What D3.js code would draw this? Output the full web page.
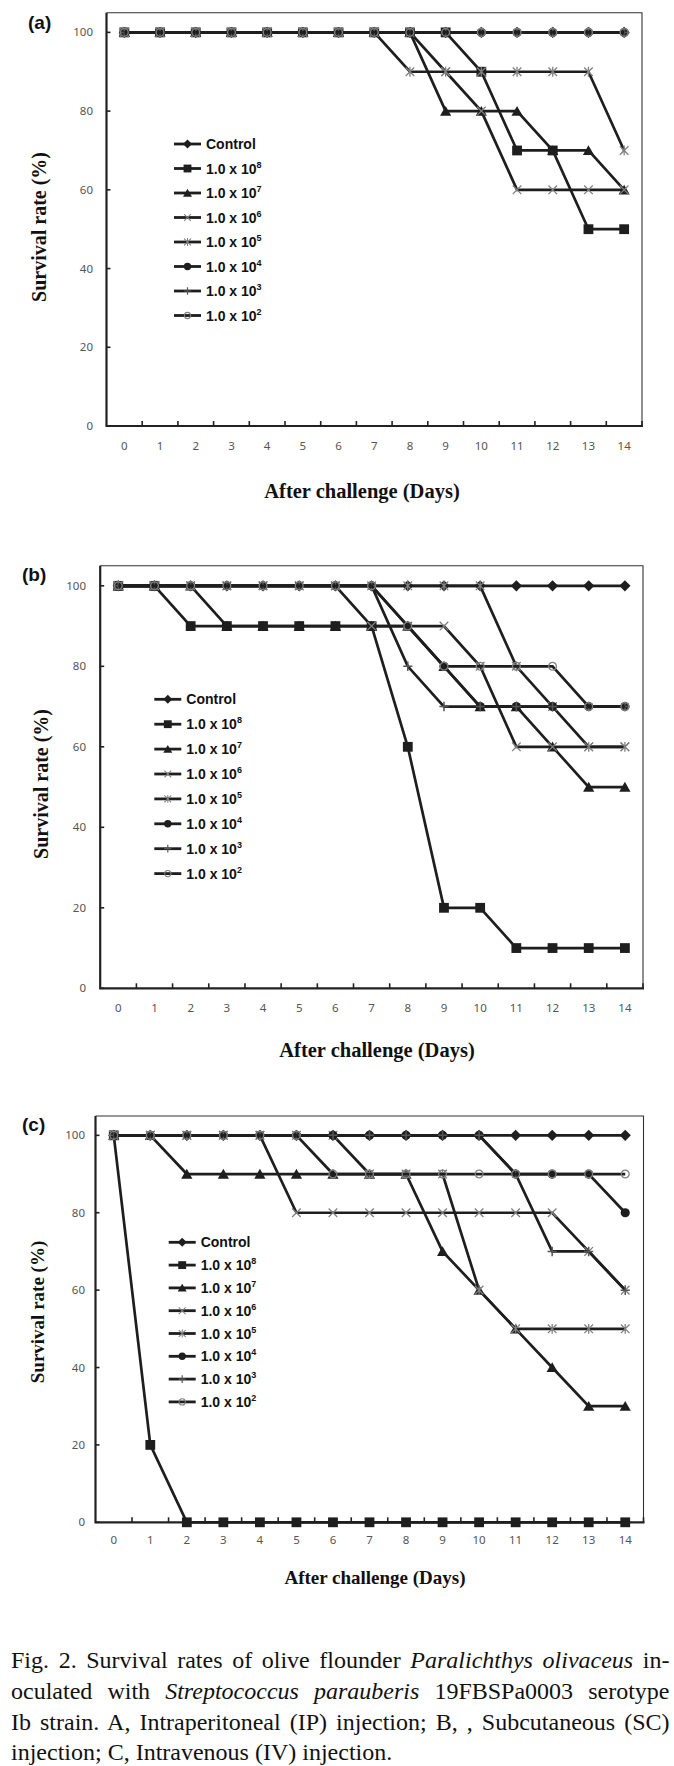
<!DOCTYPE html>
<html><head><meta charset="utf-8">
<script src="https://cdn.jsdelivr.net/npm/d3@7"></script>
<style>body{margin:0;background:#fff}</style>
</head><body><svg id="c" width="674" height="1766" xmlns="http://www.w3.org/2000/svg"></svg>
<script>
// ---------------- DATA ----------------
const days = [0,1,2,3,4,5,6,7,8,9,10,11,12,13,14];
const yTicks = [0,20,40,60,80,100];
const seriesBase = ["Control","1.0 x 10","1.0 x 10","1.0 x 10","1.0 x 10","1.0 x 10","1.0 x 10","1.0 x 10"];
const seriesExp = ["","8","7","6","5","4","3","2"];
const markerTypes = ["diamond","square","triangle","x","asterisk","circle","plus","ocircle"];

// (a) Intraperitoneal
const aControl = [100,100,100,100,100,100,100,100,100,100,100,100,100,100,100];
const a1e8 = [100,100,100,100,100,100,100,100,100,100,90,70,70,50,50];
const a1e7 = [100,100,100,100,100,100,100,100,100,80,80,80,70,70,60];
const a1e6 = [100,100,100,100,100,100,100,100,100,90,80,60,60,60,60];
const a1e5 = [100,100,100,100,100,100,100,100,90,90,90,90,90,90,70];
const a1e4 = [100,100,100,100,100,100,100,100,100,100,100,100,100,100,100];
const a1e3 = [100,100,100,100,100,100,100,100,100,100,100,100,100,100,100];
const a1e2 = [100,100,100,100,100,100,100,100,100,100,100,100,100,100,100];

// (b) Subcutaneous
const bControl = [100,100,100,100,100,100,100,100,100,100,100,100,100,100,100];
const b1e8 = [100,100,90,90,90,90,90,90,60,20,20,10,10,10,10];
const b1e7 = [100,100,100,90,90,90,90,90,90,80,70,70,60,50,50];
const b1e6 = [100,100,100,100,100,100,100,90,90,90,80,60,60,60,60];
const b1e5 = [100,100,100,100,100,100,100,100,100,100,100,80,70,60,60];
const b1e4 = [100,100,100,100,100,100,100,100,90,80,70,70,70,70,70];
const b1e3 = [100,100,100,100,100,100,100,100,80,70,70,70,70,70,70];
const b1e2 = [100,100,100,100,100,100,100,100,90,80,80,80,80,70,70];

// (c) Intravenous
const cControl = [100,100,100,100,100,100,100,100,100,100,100,100,100,100,100];
const c1e8 = [100,20,0,0,0,0,0,0,0,0,0,0,0,0,0];
const c1e7 = [100,100,90,90,90,90,90,90,90,70,60,50,40,30,30];
const c1e6 = [100,100,100,100,100,80,80,80,80,80,80,80,80,70,60];
const c1e5 = [100,100,100,100,100,100,100,90,90,90,60,50,50,50,50];
const c1e4 = [100,100,100,100,100,100,100,100,100,100,100,90,90,90,80];
const c1e3 = [100,100,100,100,100,100,100,100,100,100,100,90,70,70,60];
const c1e2 = [100,100,100,100,100,100,90,90,90,90,90,90,90,90,90];

const xTitle = "After challenge (Days)";
const yTitle = "Survival rate (%)";

// ---------------- LAYOUT ----------------
const panels = [
  {label:"(a)", lx:28, ly:29, series:[aControl,a1e8,a1e7,a1e6,a1e5,a1e4,a1e3,a1e2],
   left:106.5, right:642, top:12.7, bottom:426, ytx:39, yty:227, yfs:20,
   xtx:362, xty:498, xfs:20.5, tickY:450, legX:174, legY:144, legStep:24.5, ylab:93},
  {label:"(b)", lx:22, ly:581, series:[bControl,b1e8,b1e7,b1e6,b1e5,b1e4,b1e3,b1e2],
   left:100.2, right:643, top:565.7, bottom:988.3, ytx:41, yty:784, yfs:20,
   xtx:377, xty:1057, xfs:20.5, tickY:1012, legX:154.3, legY:699.3, legStep:24.9, ylab:86},
  {label:"(c)", lx:22, ly:1131, series:[cControl,c1e8,c1e7,c1e6,c1e5,c1e4,c1e3,c1e2],
   left:95.5, right:643.5, top:1116, bottom:1522.3, ytx:37, yty:1312, yfs:19,
   xtx:375, xty:1584, xfs:19, tickY:1544, legX:168.7, legY:1242.3, legStep:22.8, ylab:85}
];

const svg = d3.select("#c");
svg.append("rect").attr("width",674).attr("height",1766).attr("fill","#fff");

const LINE = "#1e1e1e";
const GRAY = "#808080";

function drawMarker(g, type, x, y, s) {
  s = s || 1;
  const m = g.append("g").attr("transform", `translate(${x},${y}) scale(${s})`);
  switch(type) {
    case "diamond":
      m.append("path").attr("d","M0,-5.6L5.6,0L0,5.6L-5.6,0Z").attr("fill",LINE); break;
    case "square":
      m.append("rect").attr("x",-4.9).attr("y",-4.9).attr("width",9.8).attr("height",9.8).attr("fill",LINE); break;
    case "triangle":
      m.append("path").attr("d","M0,-5.2L5.6,4.6L-5.6,4.6Z").attr("fill",LINE); break;
    case "x":
      m.append("path").attr("d","M-4.3,-4.3L4.3,4.3M-4.3,4.3L4.3,-4.3").attr("stroke",GRAY).attr("stroke-width",1.3).attr("fill","none"); break;
    case "asterisk":
      m.append("path").attr("d","M-4.3,-4.3L4.3,4.3M-4.3,4.3L4.3,-4.3M0,-4.9L0,4.9").attr("stroke",GRAY).attr("stroke-width",1.3).attr("fill","none"); break;
    case "circle":
      m.append("circle").attr("r",4.6).attr("fill",LINE); break;
    case "plus":
      m.append("path").attr("d","M-4.6,0L4.6,0M0,-4.8L0,4.8").attr("stroke","#555").attr("stroke-width",1.5).attr("fill","none"); break;
    case "ocircle":
      m.append("circle").attr("r",3.9).attr("fill","none").attr("stroke",GRAY).attr("stroke-width",1.3); break;
  }
}

panels.forEach(p => {
  const g = svg.append("g");
  const x = d3.scalePoint().domain(days).range([p.left, p.right]).padding(0.5);
  const y = d3.scaleLinear().domain([0,105]).range([p.bottom, p.top]);
  const step = x.step();

  // frame: thin top/right, thick left/bottom
  g.append("path").attr("d",`M${p.left},${p.top}H${p.right}V${p.bottom}`)
    .attr("fill","none").attr("stroke","#333").attr("stroke-width",1.1);
  g.append("path").attr("d",`M${p.left},${p.top}V${p.bottom}H${p.right+1}`)
    .attr("fill","none").attr("stroke","#222").attr("stroke-width",2.2);

  // y ticks (inward) + labels
  yTicks.forEach(t => {
    g.append("line").attr("x1",p.left).attr("x2",p.left+4).attr("y1",y(t)).attr("y2",y(t))
      .attr("stroke","#222").attr("stroke-width",1.6);
    g.append("text").attr("x",p.ylab).attr("y",y(t)+4).attr("text-anchor","end")
      .attr("font-family","Noto Sans, DejaVu Sans, sans-serif").attr("font-size",11.5)
      .attr("fill","#555").text(t);
  });
  // x ticks between categories (inward) + labels
  days.forEach((d,i) => {
    const bx = x(d) + step/2;
    g.append("line").attr("x1",bx).attr("x2",bx).attr("y1",p.bottom).attr("y2",p.bottom-5)
      .attr("stroke","#222").attr("stroke-width",1.6);
    g.append("text").attr("x",x(d)).attr("y",p.tickY).attr("text-anchor","middle")
      .attr("font-family","Noto Sans, DejaVu Sans, sans-serif").attr("font-size",11.5)
      .attr("fill","#555").text(d);
  });

  // series
  const line = d3.line().x((v,i)=>x(days[i])).y(v=>y(v));
  p.series.forEach((vals, si) => {
    g.append("path").attr("d", line(vals)).attr("fill","none")
      .attr("stroke",LINE).attr("stroke-width",2.7).attr("stroke-linejoin","miter");
    vals.forEach((v,i) => drawMarker(g, markerTypes[si], x(days[i]), y(v)));
  });

  // legend
  seriesBase.forEach((name, si) => {
    const ly = p.legY + si*p.legStep;
    g.append("line").attr("x1",p.legX).attr("x2",p.legX+27).attr("y1",ly).attr("y2",ly)
      .attr("stroke",LINE).attr("stroke-width",2.8);
    drawMarker(g, markerTypes[si], p.legX+13.5, ly, 0.8);
    const t = g.append("text").attr("x",p.legX+32).attr("y",ly+5)
      .attr("font-family","Liberation Sans, Arial, sans-serif").attr("font-weight","bold")
      .attr("font-size",14).attr("fill","#111");
    t.append("tspan").text(name);
    if (seriesExp[si]) t.append("tspan").attr("font-size",9).attr("dy",-6).text(seriesExp[si]);
  });

  // titles
  g.append("text").attr("transform",`translate(${p.ytx},${p.yty}) rotate(-90)`)
    .attr("text-anchor","middle").attr("dy","0.35em")
    .attr("font-family","Liberation Serif, Times New Roman, serif").attr("font-weight","bold")
    .attr("font-size",p.yfs).attr("fill","#111").text(yTitle);
  g.append("text").attr("x",p.xtx).attr("y",p.xty).attr("text-anchor","middle")
    .attr("font-family","Liberation Serif, Times New Roman, serif").attr("font-weight","bold")
    .attr("font-size",p.xfs).attr("fill","#111").text(xTitle);
  g.append("text").attr("x",p.lx).attr("y",p.ly)
    .attr("font-family","Liberation Sans, Arial, sans-serif").attr("font-weight","bold")
    .attr("font-size",19).attr("fill","#111").text(p.label);
});

// caption
const capLines = [
  {y:1668, justify:true, parts:[["Fig. 2. Survival rates of olive flounder ",false],["Paralichthys olivaceus",true],[" in-",false]]},
  {y:1699, justify:true, parts:[["oculated with ",false],["Streptococcus parauberis",true],[" 19FBSPa0003 serotype",false]]},
  {y:1730, justify:true, parts:[["Ib strain. A, Intraperitoneal (IP) injection; B, , Subcutaneous (SC)",false]]},
  {y:1760, justify:false, parts:[["injection; C, Intravenous (IV) injection.",false]]}
];
capLines.forEach(L => {
  const t = svg.append("text").attr("x",11).attr("y",L.y)
    .attr("font-family","Liberation Serif, Times New Roman, serif").attr("font-size",24).attr("fill","#111")
    .attr("xml:space","preserve");
  L.parts.forEach(([s,it]) => {
    const ts = t.append("tspan").text(s);
    if (it) ts.attr("font-style","italic");
  });
  if (L.justify) {
    const nat = t.node().getComputedTextLength();
    const spaces = L.parts.map(p=>p[0]).join("").split(" ").length - 1;
    const target = 658.5;
    t.attr("word-spacing", (target - nat)/spaces);
  }
});
</script>
</body></html>
